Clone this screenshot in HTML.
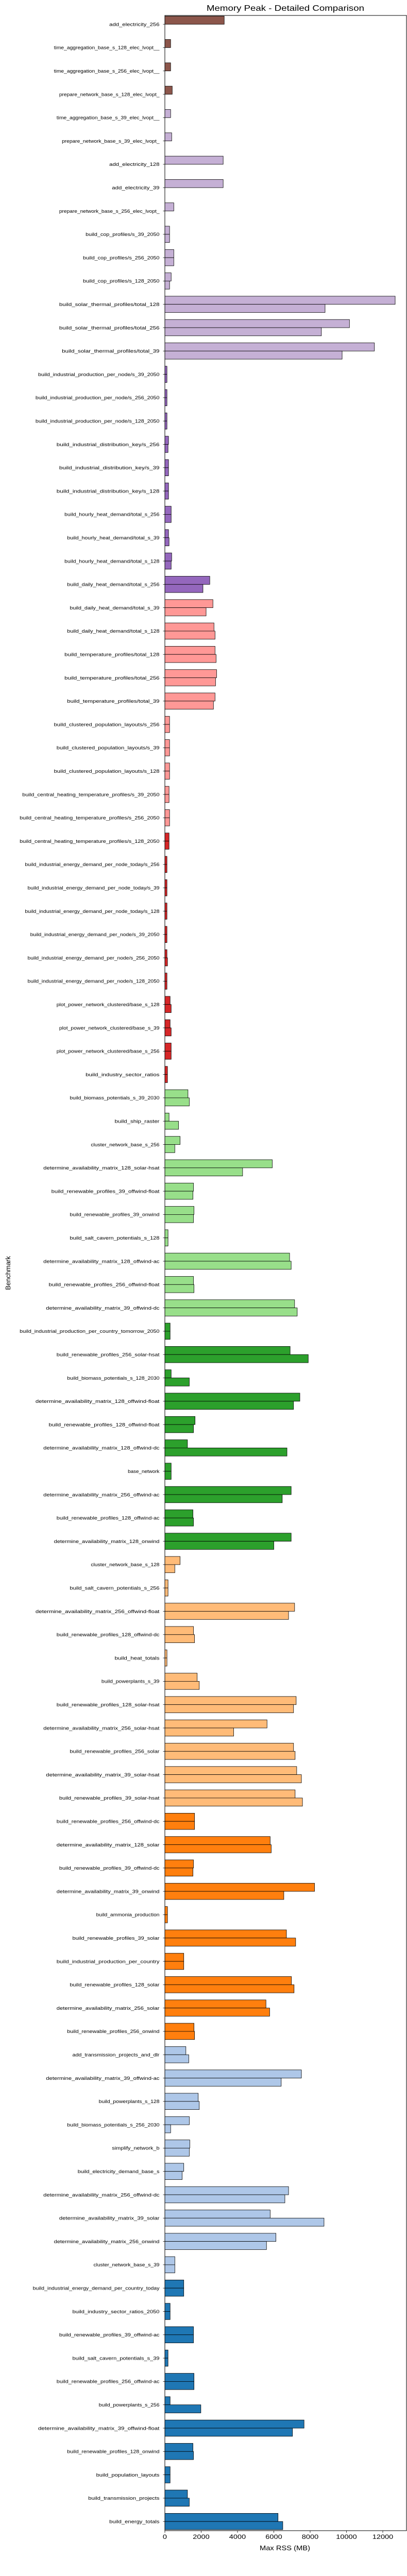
<!DOCTYPE html>
<html>
<head>
<meta charset="utf-8">
<style>
  html,body{margin:0;padding:0;background:#fff;width:790px;height:5390px;overflow:hidden;position:relative;}
  svg{display:block;position:absolute;left:0;top:0;width:790px;height:5390px;}
  text{font-family:"Liberation Sans","DejaVu Sans",sans-serif;fill:#000;}
</style>
</head>
<body>
<svg id="chart" width="790" height="5390" viewBox="0 0 790 5390" xmlns="http://www.w3.org/2000/svg">
  <rect x="0" y="0" width="790" height="5390" fill="#fff"/>
  <text x="554" y="21" text-anchor="middle" font-size="16" textLength="306" lengthAdjust="spacingAndGlyphs">Memory Peak - Detailed Comparison</text>
  <g id="bars"></g>
  <g id="yaxis"></g>
  <g id="xaxis"></g>
  <rect id="frame" x="320" y="30" width="469" height="4882" fill="none" stroke="#000" stroke-width="1"/>
  <text id="xtitle" x="553" y="4950" text-anchor="middle" font-size="13" textLength="98" lengthAdjust="spacingAndGlyphs">Max RSS (MB)</text>
  <text id="ytitle" transform="translate(20,2471) rotate(-90)" text-anchor="middle" font-size="13">Benchmark</text>
</svg>
<script>
const categories = [
"add_electricity_256","time_aggregation_base_s_128_elec_lvopt__","time_aggregation_base_s_256_elec_lvopt__","prepare_network_base_s_128_elec_lvopt_",
"time_aggregation_base_s_39_elec_lvopt__","prepare_network_base_s_39_elec_lvopt_","add_electricity_128","add_electricity_39","prepare_network_base_s_256_elec_lvopt_",
"build_cop_profiles/s_39_2050","build_cop_profiles/s_256_2050","build_cop_profiles/s_128_2050","build_solar_thermal_profiles/total_128","build_solar_thermal_profiles/total_256","build_solar_thermal_profiles/total_39",
"build_industrial_production_per_node/s_39_2050","build_industrial_production_per_node/s_256_2050","build_industrial_production_per_node/s_128_2050",
"build_industrial_distribution_key/s_256","build_industrial_distribution_key/s_39","build_industrial_distribution_key/s_128",
"build_hourly_heat_demand/total_s_256","build_hourly_heat_demand/total_s_39","build_hourly_heat_demand/total_s_128","build_daily_heat_demand/total_s_256",
"build_daily_heat_demand/total_s_39","build_daily_heat_demand/total_s_128","build_temperature_profiles/total_128","build_temperature_profiles/total_256","build_temperature_profiles/total_39",
"build_clustered_population_layouts/s_256","build_clustered_population_layouts/s_39","build_clustered_population_layouts/s_128",
"build_central_heating_temperature_profiles/s_39_2050","build_central_heating_temperature_profiles/s_256_2050","build_central_heating_temperature_profiles/s_128_2050",
"build_industrial_energy_demand_per_node_today/s_256","build_industrial_energy_demand_per_node_today/s_39","build_industrial_energy_demand_per_node_today/s_128",
"build_industrial_energy_demand_per_node/s_39_2050","build_industrial_energy_demand_per_node/s_256_2050","build_industrial_energy_demand_per_node/s_128_2050",
"plot_power_network_clustered/base_s_128","plot_power_network_clustered/base_s_39","plot_power_network_clustered/base_s_256","build_industry_sector_ratios",
"build_biomass_potentials_s_39_2030","build_ship_raster","cluster_network_base_s_256","determine_availability_matrix_128_solar-hsat","build_renewable_profiles_39_offwind-float",
"build_renewable_profiles_39_onwind","build_salt_cavern_potentials_s_128","determine_availability_matrix_128_offwind-ac","build_renewable_profiles_256_offwind-float","determine_availability_matrix_39_offwind-dc",
"build_industrial_production_per_country_tomorrow_2050","build_renewable_profiles_256_solar-hsat","build_biomass_potentials_s_128_2030","determine_availability_matrix_128_offwind-float",
"build_renewable_profiles_128_offwind-float","determine_availability_matrix_128_offwind-dc","base_network","determine_availability_matrix_256_offwind-ac","build_renewable_profiles_128_offwind-ac","determine_availability_matrix_128_onwind",
"cluster_network_base_s_128","build_salt_cavern_potentials_s_256","determine_availability_matrix_256_offwind-float","build_renewable_profiles_128_offwind-dc","build_heat_totals","build_powerplants_s_39","build_renewable_profiles_128_solar-hsat",
"determine_availability_matrix_256_solar-hsat","build_renewable_profiles_256_solar","determine_availability_matrix_39_solar-hsat","build_renewable_profiles_39_solar-hsat",
"build_renewable_profiles_256_offwind-dc","determine_availability_matrix_128_solar","build_renewable_profiles_39_offwind-dc","determine_availability_matrix_39_onwind","build_ammonia_production",
"build_renewable_profiles_39_solar","build_industrial_production_per_country","build_renewable_profiles_128_solar","determine_availability_matrix_256_solar","build_renewable_profiles_256_onwind",
"add_transmission_projects_and_dlr","determine_availability_matrix_39_offwind-ac","build_powerplants_s_128","build_biomass_potentials_s_256_2030","simplify_network_b","build_electricity_demand_base_s",
"determine_availability_matrix_256_offwind-dc","determine_availability_matrix_39_solar","determine_availability_matrix_256_onwind","cluster_network_base_s_39",
"build_industrial_energy_demand_per_country_today","build_industry_sector_ratios_2050","build_renewable_profiles_39_offwind-ac","build_salt_cavern_potentials_s_39",
"build_renewable_profiles_256_offwind-ac","build_powerplants_s_256","determine_availability_matrix_39_offwind-float","build_renewable_profiles_128_onwind",
"build_population_layouts","build_transmission_projects","build_energy_totals"
];
const runA = [
3268,318,318,405,318,376,3210,3210,492,260,492,347,12681,10165,11539,116,116,116,202,202,202,347,202,376,2473,
2646,2704,2762,2849,2762,260,260,260,231,260,231,116,116,116,116,116,116,289,289,347,145,
1272,231,839,5914,1576,1605,174,6868,1576,7143,289,6897,347,7432,1663,1244,347,6955,1547,6955,
839,174,7143,1576,116,1779,7230,5625,7085,7259,7172,1634,5798,1576,8242,145,6695,1041,6970,5567,1605,
1157,7519,1836,1345,1374,1041,6811,5798,6117,549,1041,289,1576,174,1605,289,7664,1547,289,1244,6232
];
const runB = [
0,0,0,0,0,0,0,0,0,260,492,260,8821,8618,9760,116,116,116,174,202,202,347,231,347,2097,
2270,2762,2820,2791,2675,260,260,260,231,260,231,116,116,116,116,145,116,347,347,347,145,
1345,752,549,4280,1547,1576,174,6955,1605,7288,289,7895,1345,7085,1576,6724,347,6464,1576,6001,
549,174,6811,1634,116,1894,7085,3789,7172,7519,7577,1634,5856,1547,6550,145,7201,1041,7114,5770,1634,
1316,6406,1894,318,1345,954,6608,8763,5596,549,1041,289,1576,174,1605,1981,7028,1576,289,1345,6493
];
const groupStarts = [0,4,15,25,35,46,56,66,77,87,97];
const groupColors = ["#8c564b","#c5b0d5","#9467bd","#ff9896","#d62728","#98df8a","#2ca02c","#ffbb78","#ff7f0e","#aec7e8","#1f77b4"];
const xTicks = [0,2000,4000,6000,8000,10000,12000];

const NS = "http://www.w3.org/2000/svg";
const X0 = 320, PX_PER = 423.0/12000;
const Y0 = 47.1, STEP = 45.3, BH = 15.8, AXIS_BOTTOM = 4912;
function xScale(v){ return X0 + v*PX_PER; }
function yScale(i){ return Y0 + i*STEP; }
function colorFor(i){ let g=0; for(let k=0;k<groupStarts.length;k++){ if(i>=groupStarts[k]) g=k; } return groupColors[g]; }
function mk(tag, attrs){ const e=document.createElementNS(NS,tag); for(const k in attrs) e.setAttribute(k, attrs[k]); return e; }

const bars = document.getElementById('bars');
const yaxis = document.getElementById('yaxis');
const xaxis = document.getElementById('xaxis');

categories.forEach((name, i) => {
  const cy = yScale(i);
  const col = colorFor(i);
  if (runA[i] > 0) {
    const r = mk('rect', {x:X0, y:cy-BH, width:xScale(runA[i])-X0, height:BH, fill:col, stroke:'#000', 'stroke-width':0.8});
    
    
    bars.appendChild(r);
  }
  if (runB[i] > 0) {
    const r = mk('rect', {x:X0, y:cy, width:xScale(runB[i])-X0, height:BH, fill:col, stroke:'#000', 'stroke-width':0.8});
    
    
    bars.appendChild(r);
  }
  const t = mk('line', {x1:316.5, x2:X0, y1:cy, y2:cy, stroke:'#000', 'stroke-width':0.8});
  
  
  yaxis.appendChild(t);
  const lbl = mk('text', {x:309.5, y:cy+3.3, 'text-anchor':'end', 'font-size':9.5, textLength:(name.length*5.12).toFixed(1), lengthAdjust:'spacingAndGlyphs'});
  lbl.textContent = name;
  
  
  yaxis.appendChild(lbl);
});

xTicks.forEach(v => {
  const x = xScale(v);
  const t = mk('line', {x1:x, x2:x, y1:AXIS_BOTTOM, y2:AXIS_BOTTOM+4, stroke:'#000', 'stroke-width':0.8});
  
  
  xaxis.appendChild(t);
  const s = String(v);
  const lbl = mk('text', {x:x, y:AXIS_BOTTOM+16, 'text-anchor':'middle', 'font-size':12, textLength:(s.length*8.1).toFixed(1), lengthAdjust:'spacingAndGlyphs'});
  lbl.textContent = s;
  
  
  xaxis.appendChild(lbl);
});
</script>
</body>
</html>
